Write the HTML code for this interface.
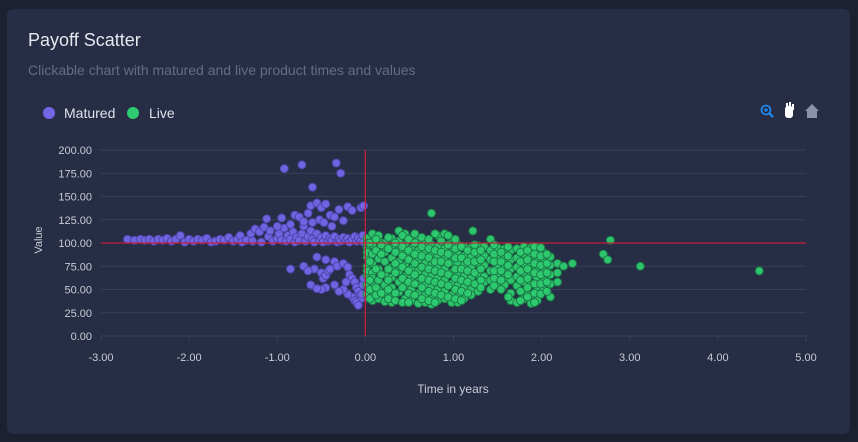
<!DOCTYPE html>
<html><head><meta charset="utf-8"><style>
html,body{margin:0;padding:0;background:#1b2131;width:858px;height:442px;overflow:hidden;font-family:"Liberation Sans",sans-serif}
#card{position:absolute;left:7px;top:9px;width:843px;height:425px;background:#262d44;border-radius:6px}
svg{position:absolute;left:0;top:0}
</style></head><body>
<div id="card"></div>
<svg id="chart" width="858" height="442">
<text x="28" y="46" fill="#e6e8ef" font-size="18">Payoff Scatter</text>
<text x="28" y="75" fill="#646d84" font-size="14">Clickable chart with matured and live product times and values</text>
<g>
<g><circle cx="49" cy="113" r="6" fill="#7367e8"/><text x="64" y="118" fill="#dfe2ea" font-size="14">Matured</text></g>
<g><circle cx="133" cy="113" r="6" fill="#2ecc71"/><text x="149" y="118" fill="#dfe2ea" font-size="14">Live</text></g>
</g>
<g><circle cx="766" cy="110" r="4.5" fill="none" stroke="#1e90ff" stroke-width="1.6"/><line x1="769" y1="113" x2="773" y2="117" stroke="#1e90ff" stroke-width="2"/><line x1="764" y1="110" x2="768" y2="110" stroke="#1e90ff" stroke-width="1.2"/><line x1="766" y1="108" x2="766" y2="112" stroke="#1e90ff" stroke-width="1.2"/></g>
<g><rect x="785" y="106" width="8" height="12" rx="3" fill="#fff"/><rect x="786" y="103" width="2" height="6" fill="#fff"/><rect x="789" y="102" width="2" height="6" fill="#fff"/><rect x="792" y="104" width="2" height="6" fill="#fff"/></g>
<g><path d="M805 111 L812 104 L819 111 L817 111 L817 118 L807 118 L807 111 Z" fill="#8a93a8"/></g>
<g id="grid"></g><g id="axes"></g><g id="pts"></g><g id="ref"></g>
<text x="453" y="393" fill="#c8ccd6" font-size="12" text-anchor="middle">Time in years</text>
<text x="0" y="0" fill="#c8ccd6" font-size="11" text-anchor="middle" transform="translate(42,240) rotate(-90)">Value</text>
</svg>
<script>
const xTicks=[-3,-2,-1,0,1,2,3,4,5];
const yTicks=[0,25,50,75,100,125,150,175,200];
const matured=[[-2.7,104],[-2.62,103],[-2.55,104],[-2.5,103],[-2.45,104],[-2.4,102],[-2.35,104],[-2.3,103],[-2.25,105],[-2.2,102],[-2.15,104],[-2.1,108],[-2.05,101],[-2.0,104],[-1.95,102],[-1.9,104],[-1.85,103],[-1.8,105],[-1.75,101],[-1.7,102],[-1.65,104],[-1.6,103],[-1.55,106],[-1.5,102],[-1.45,104],[-1.42,108],[-1.4,101],[-1.35,103],[-1.3,110],[-1.28,102],[-1.25,115],[-1.2,112],[-1.18,101],[-1.15,117],[-1.1,107],[-1.08,113],[-1.05,102],[-1.0,105],[-0.98,110],[-0.95,103],[-0.92,116],[-0.9,102],[-0.88,108],[-0.85,104],[-0.82,112],[-0.8,101],[-0.78,106],[-0.75,103],[-0.72,110],[-0.7,118],[-0.68,102],[-0.65,107],[-0.62,113],[-0.6,104],[-0.58,101],[-0.55,110],[-0.52,103],[-0.5,106],[-0.48,101],[-0.45,108],[-0.42,102],[-0.4,105],[-0.38,103],[-0.35,107],[-0.32,101],[-0.3,104],[-0.28,102],[-0.25,106],[-0.22,103],[-0.2,105],[-0.18,101],[-0.15,104],[-0.12,107],[-0.1,102],[-0.08,105],[-0.05,103],[-0.03,108],[-0.02,101],
[-0.92,180],[-0.72,184],[-0.33,186],[-0.28,175],[-0.6,160],[-0.62,140],[-0.55,143],[-0.5,138],[-0.45,142],[-0.4,130],[-0.35,128],[-0.3,136],[-0.2,139],[-0.05,138],[-0.02,140],[-0.15,135],[-0.8,130],[-0.85,120],[-0.75,128],[-1.0,118],[-0.65,132],[-0.52,125],[-0.47,122],[-0.38,118],[-0.25,124],[-0.6,122],[-0.7,123],[-1.12,126],[-0.95,127],
[-0.55,85],[-0.45,82],[-0.35,80],[-0.85,72],[-0.58,72],[-0.5,68],[-0.48,62],[-0.45,65],[-0.42,70],[-0.4,72],[-0.7,75],[-0.32,75],[-0.25,78],[-0.2,74],[-0.18,66],[-0.15,62],[-0.12,58],[-0.1,52],[-0.08,48],[-0.06,44],[-0.05,40],[-0.04,45],[-0.03,55],[-0.02,62],[-0.15,42],[-0.12,38],[-0.1,36],[-0.08,33],[-0.2,45],[-0.25,50],[-0.3,48],[-0.45,52],[-0.5,50],[-0.62,55],[-0.55,51],[-0.65,70],[-0.35,55],[-0.22,58]];
const liveTimes=[0.02,0.08,0.15,0.22,0.3,0.38,0.45,0.52,0.6,0.68,0.75,0.82,0.9,0.98,1.05,1.12,1.2,1.28,1.35,1.42,1.5,1.58,1.65,1.72,1.8,1.88,1.95,2.02,2.1,2.18];
const liveValues=[[105,95,85,75,65,55,45,100,90,70],[110,98,88,78,68,58,48,38,62],[103,93,83,72,60,50,40,108],[100,90,80,66,55,45,37],[105,95,84,74,63,52,42,36],[113,102,92,80,70,58,47],[110,98,88,76,64,54,40],[105,94,84,72,62,50,38],[103,92,82,70,58,46,35],[100,90,78,66,55,44,36],[98,88,76,64,52,40,34],[108,96,86,74,62,50,38],[110,94,84,72,60,48,40],[100,90,80,68,56,44,36],[98,88,78,66,54,42,36],[96,86,76,64,52,40],[95,85,74,62,50,44],[97,88,78,66,55,48],[96,86,76,64,58],[104,92,82,70,60,50],[95,85,76,66,57],[94,84,74,62,55],[92,82,72,60,46,38],[94,84,74,64,54,36],[96,88,78,68,58,48,40],[95,86,76,66,56,44,35],[92,82,72,62,52,38],[90,80,70,60,50],[85,76,66,56,42],[78,68,58]];
const liveTimes2=[0.05,0.12,0.18,0.26,0.34,0.42,0.49,0.56,0.64,0.72,0.79,0.86,0.94,1.02,1.09,1.16,1.24,1.31,1.46,1.54,1.62,1.76,1.84,1.92,1.99,2.06];
const liveValues2=[[100,80,60,50,40],[104,92,72,52,44],[98,88,66,46],[106,94,72,60,50,40],[100,90,78,68,46,38],[108,96,86,74,62,52,36],[104,92,82,70,58,46,36],[110,100,88,78,66,56,44],[106,96,86,74,62,52,40],[104,94,84,72,60,48,38],[110,92,80,70,58,46,36],[102,90,80,68,56,44],[108,98,88,78,66,54,42],[104,94,84,72,62,50,40],[96,84,72,60,48,38],[92,80,70,58,46],[98,90,80,68,56],[92,82,72,60,52],[98,88,80,70,62,54],[90,80,70,60,50],[96,86,76,66,42],[90,80,70,60,48,38],[92,82,72,62,52,42],[96,88,78,68,56,46,36],[95,86,76,66,56,45],[88,78,68,58,48]];
const liveOutliers=[[0.75,132],[1.22,113],[2.7,88],[2.75,82],[2.78,103],[3.12,75],[4.47,70],[2.35,78],[2.25,75]];
const NS='http://www.w3.org/2000/svg';
const X0=101,X1=806,Y0=336,Y1=150;
const sx=v=>X0+(v+3)/8*(X1-X0);
const sy=v=>Y0-v/200*(Y0-Y1);
function mk(t,a,p){const e=document.createElementNS(NS,t);for(const k in a)e.setAttribute(k,a[k]);p.appendChild(e);return e;}
const grid=document.getElementById('grid'),axes=document.getElementById('axes'),pts=document.getElementById('pts'),ref=document.getElementById('ref');
yTicks.forEach(v=>{
  const l=mk('line',{x1:X0,x2:X1,y1:sy(v),y2:sy(v),stroke:'#394159','stroke-width':1},grid);
  
  
  const t=mk('text',{x:92,y:sy(v)+4,fill:'#c8ccd6','font-size':11,'text-anchor':'end'},axes);
  t.textContent=v.toFixed(2);
  
  
});
xTicks.forEach(v=>{
  const l=mk('line',{x1:sx(v),x2:sx(v),y1:Y0,y2:Y0+5,stroke:'#394159'},axes);
  
  
  const t=mk('text',{x:sx(v),y:361,fill:'#c8ccd6','font-size':11,'text-anchor':'middle'},axes);
  t.textContent=v.toFixed(2);
  
  
});
function dot(x,y,fill,stroke,name){
  const c=mk('circle',{cx:sx(x),cy:sy(y),r:4,fill:fill,stroke:stroke,'stroke-width':1,'fill-opacity':0.95},pts);
  
  
}
matured.forEach(p=>dot(p[0],p[1],'#7367e8','#4d44a8','matured-point'));
liveTimes.forEach((t,i)=>liveValues[i].forEach(v=>dot(t,v,'#2ecc71','#1b7a45','live-point')));
liveTimes2.forEach((t,i)=>liveValues2[i].forEach(v=>dot(t,v,'#2ecc71','#1b7a45','live-point')));
liveOutliers.forEach(p=>dot(p[0],p[1],'#2ecc71','#1b7a45','live-point'));
const h=mk('line',{x1:X0,x2:X1,y1:sy(100),y2:sy(100),stroke:'#c4203a','stroke-width':1.3},ref);


const v=mk('line',{x1:sx(0),x2:sx(0),y1:Y1,y2:Y0,stroke:'#c4203a','stroke-width':1.3},ref);


</script>
</body></html>
